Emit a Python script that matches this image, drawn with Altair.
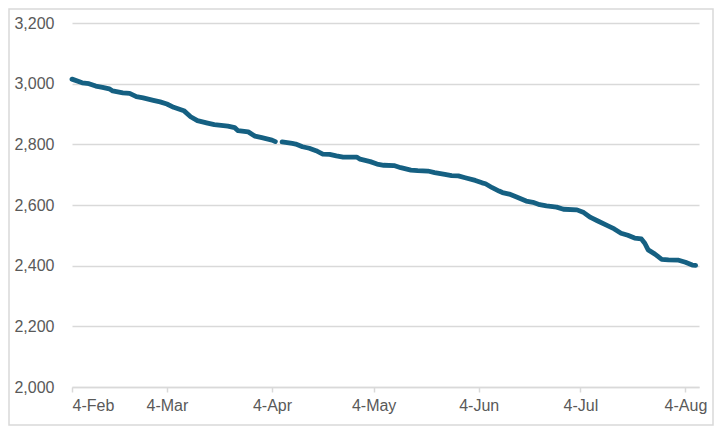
import pandas as pd
import altair as alt

LINE_COLOR = "#156082"
GRID = "#d9d9d9"
LABEL = "#595959"
FONT = "Liberation Sans"

# readings, one missing day (6-Apr) leaves a gap
DATES = [
    "2025-02-04", "2025-02-07", "2025-02-09", "2025-02-11", "2025-02-13",
    "2025-02-15", "2025-02-16", "2025-02-19", "2025-02-21", "2025-02-23",
    "2025-02-25", "2025-02-28", "2025-03-02", "2025-03-04", "2025-03-06",
    "2025-03-09", "2025-03-11", "2025-03-13", "2025-03-16", "2025-03-18",
    "2025-03-22", "2025-03-24", "2025-03-25", "2025-03-28", "2025-03-30",
    "2025-04-01", "2025-04-04", "2025-04-05", "2025-04-06", "2025-04-07",
    "2025-04-10", "2025-04-11", "2025-04-13", "2025-04-15", "2025-04-17",
    "2025-04-19", "2025-04-21", "2025-04-23", "2025-04-25", "2025-04-29",
    "2025-04-30", "2025-05-03", "2025-05-05", "2025-05-07", "2025-05-10",
    "2025-05-12", "2025-05-15", "2025-05-17", "2025-05-20", "2025-05-22",
    "2025-05-25", "2025-05-27", "2025-05-29", "2025-05-31", "2025-06-03",
    "2025-06-05", "2025-06-06", "2025-06-08", "2025-06-10", "2025-06-11",
    "2025-06-13", "2025-06-15", "2025-06-18", "2025-06-20", "2025-06-22",
    "2025-06-24", "2025-06-27", "2025-06-29", "2025-07-03", "2025-07-05",
    "2025-07-07", "2025-07-09", "2025-07-12", "2025-07-14", "2025-07-16",
    "2025-07-18", "2025-07-20", "2025-07-22", "2025-07-23", "2025-07-24",
    "2025-07-26", "2025-07-28", "2025-07-30", "2025-08-02", "2025-08-04",
    "2025-08-06", "2025-08-07",
]
VALUES = [
    3015, 3003, 3000, 2992, 2988,
    2983, 2976, 2970, 2968, 2957,
    2953, 2945, 2940, 2933, 2922,
    2911, 2891, 2878, 2870, 2865,
    2860, 2855, 2845, 2841, 2827,
    2822, 2814, 2809, None, 2808,
    2803, 2801, 2792, 2787, 2779,
    2768, 2767, 2762, 2758, 2758,
    2751, 2743, 2735, 2731, 2730,
    2723, 2715, 2713, 2712, 2707,
    2701, 2697, 2696, 2690, 2681,
    2673, 2670, 2657, 2646, 2641,
    2636, 2627, 2613, 2609, 2601,
    2597, 2593, 2586, 2584, 2575,
    2559, 2548, 2532, 2521, 2507,
    2500, 2491, 2488, 2474, 2452,
    2438, 2421, 2419, 2418, 2411,
    2402, 2401,
]
Y_TICKS = [2000, 2200, 2400, 2600, 2800, 3000, 3200]
X_TICKS = ["2025-02-04", "2025-03-04", "2025-04-04", "2025-05-04",
           "2025-06-04", "2025-07-04", "2025-08-04"]
X_DOMAIN = ["2025-02-04", "2025-08-08"]


def to_ms(s):
    return int(pd.Timestamp(s, tz="UTC").timestamp() * 1000)


df = pd.DataFrame({"date": DATES, "value": VALUES})

W, H = 627, 364
PAD = {"left": 64, "top": 15, "right": 15, "bottom": 39}

line = alt.Chart(df).mark_line(
    color=LINE_COLOR, strokeWidth=4.8, strokeCap="round", strokeJoin="round",
    invalid="break-paths-show-domains",
).encode(
    x=alt.X("date:T",
            scale=alt.Scale(type="utc", domain=[to_ms(d) for d in X_DOMAIN]),
            axis=alt.Axis(values=[to_ms(d) for d in X_TICKS], format="%-d-%b",
                          title=None, grid=False, domainColor=GRID, domainWidth=1.5,
                          tickColor=GRID, tickSize=5, tickWidth=1.5,
                          labelColor=LABEL, labelFont=FONT, labelFontSize=16,
                          labelPadding=5)),
    y=alt.Y("value:Q",
            scale=alt.Scale(domain=[2000, 3200], nice=False, zero=False),
            axis=alt.Axis(values=Y_TICKS, format=",.0f", title=None, domain=False,
                          ticks=False, gridColor=GRID, gridWidth=1.5,
                          labelColor=LABEL, labelFont=FONT, labelFontSize=16,
                          labelPadding=18)),
)

# light frame round the whole chart area, like Excel's
frame = alt.Chart(alt.Data(values=[{"k": 1}])).mark_rect(
    fill="transparent", stroke=GRID, strokeWidth=1.5,
).encode(
    x=alt.value(-PAD["left"] + 1), x2=alt.value(W + PAD["right"] - 1),
    y=alt.value(-PAD["top"] + 1), y2=alt.value(H + PAD["bottom"] - 1),
)

chart = (frame + line).properties(
    width=W, height=H, padding=PAD,
    autosize=alt.AutoSizeParams(type="none"),
    background="white",
).configure_view(stroke="transparent")

chart.save("out.html", embed_options={"renderer": "svg", "actions": False})
